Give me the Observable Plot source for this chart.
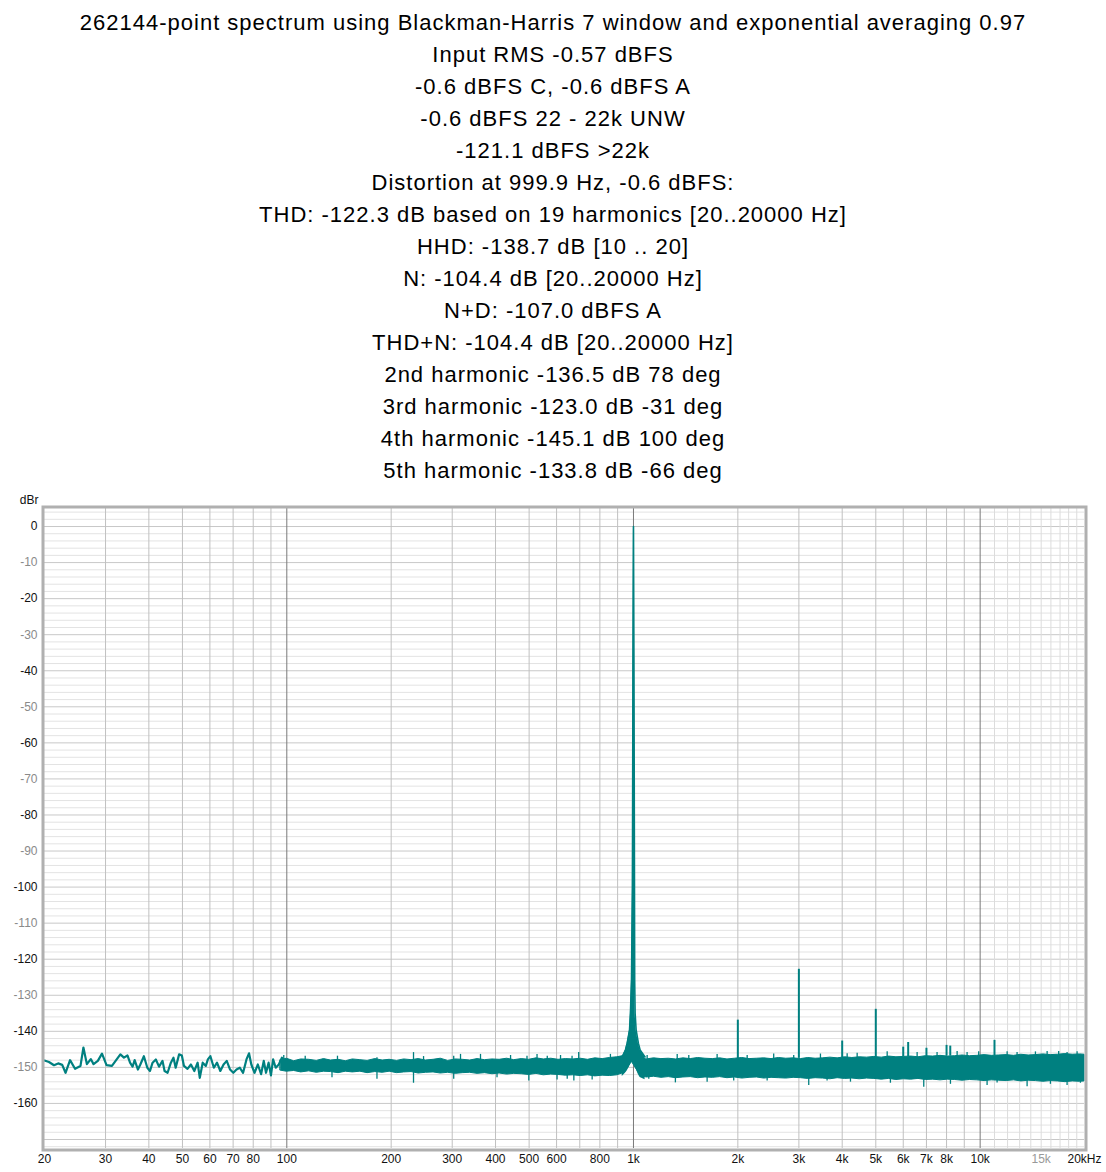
<!DOCTYPE html>
<html>
<head>
<meta charset="utf-8">
<script src="https://cdn.jsdelivr.net/npm/d3@7"></script>
<script src="https://cdn.jsdelivr.net/npm/@observablehq/plot@0.6"></script>
<style>
  body { margin: 0; background: #fff; font-family: "Liberation Sans", Arial, sans-serif; }
  #title { width: 1106px; box-sizing: border-box; height: 487px; padding-top: 7px; text-align: center; font-size: 22px; letter-spacing: 1px; line-height: 32px; color: #000; }
  #chart svg { display: block; }
</style>
</head>
<body>
<div id="title"></div>
<div id="chart"></div>
<script>
// ---------- text ----------
const titleLines = [
  "262144-point spectrum using Blackman-Harris 7 window and exponential averaging 0.97",
  "Input RMS -0.57 dBFS",
  "-0.6 dBFS C, -0.6 dBFS A",
  "-0.6 dBFS 22 - 22k UNW",
  "-121.1 dBFS >22k",
  "Distortion at 999.9 Hz, -0.6 dBFS:",
  "THD: -122.3 dB based on 19 harmonics [20..20000 Hz]",
  "HHD: -138.7 dB [10 .. 20]",
  "N: -104.4 dB [20..20000 Hz]",
  "N+D: -107.0 dBFS A",
  "THD+N: -104.4 dB [20..20000 Hz]",
  "2nd harmonic -136.5 dB 78 deg",
  "3rd harmonic -123.0 dB -31 deg",
  "4th harmonic -145.1 dB 100 deg",
  "5th harmonic -133.8 dB -66 deg"
];
const yAxisLabel = "dBr";

// ---------- tick labels ----------
const xTickFreq  = [20, 30, 40, 50, 60, 70, 80, 100, 200, 300, 400, 500, 600, 800, 1000, 2000, 3000, 4000, 5000, 6000, 7000, 8000, 10000, 15000, 20000];
const xTickLabel = ["20","30","40","50","60","70","80","100","200","300","400","500","600","800","1k","2k","3k","4k","5k","6k","7k","8k","10k","15k","20kHz"];
const xTickGray  = ["15k"];
const yTickValues = [0, -10, -20, -30, -40, -50, -60, -70, -80, -90, -100, -110, -120, -130, -140, -150, -160];

// ---------- low-frequency trace (20 .. ~100 Hz) ----------
const lowFreq = [20, 20.6, 21.3, 21.9, 22.5, 23.0, 23.7, 24.5, 25.4, 25.9,
  26.5, 27.2, 27.7, 28.5, 29.3, 30.2, 31.3, 33.1, 33.9, 34.7,
  35.3, 35.9, 36.4, 37.2, 37.8, 38.7, 39.6, 40.3, 41.0, 41.9,
  42.8, 43.8, 44.4, 45.3, 46.3, 47.1, 47.8, 48.9, 49.8, 50.5,
  51.7, 52.9, 54.1, 55.3, 56.1, 57.2, 58.4, 59.2, 60.2, 61.6,
  62.9, 64.3, 65.7, 67.1, 68.6, 70.1, 71.6, 73.2, 74.8, 76.5,
  77.8, 79.0, 80.7, 82.5, 84.3, 85.8, 87.1, 88.6, 90.0, 91.3,
  92.9, 94.8, 96.8, 98.9, 101.1];
const lowLevel = [-148.1, -148.5, -149.4, -148.9, -149.3, -151.5, -148.0, -150.4, -149.6, -144.5,
  -149.1, -147.7, -149.1, -148.2, -146.2, -149.4, -149.6, -146.4, -147.3, -146.7,
  -148.7, -149.8, -148.0, -150.6, -149.2, -146.9, -150.1, -151.0, -148.7, -147.8,
  -149.8, -148.2, -151.0, -151.5, -148.7, -147.3, -150.1, -146.4, -146.7, -149.6,
  -150.4, -149.2, -151.0, -148.7, -152.9, -148.7, -149.6, -147.8, -146.9, -150.1,
  -148.7, -151.0, -149.2, -148.2, -150.6, -151.5, -150.6, -150.1, -151.5, -147.8,
  -146.1, -149.2, -151.5, -149.2, -151.9, -148.2, -151.5, -148.7, -152.2, -147.8,
  -150.1, -149.2, -147.3, -149.6, -148.7];

// ---------- dense noise floor (~100 Hz .. 20 kHz): solid core envelope ----------
const bandFreq = [96, 100, 105, 110, 116, 122, 128, 134, 141, 148,
  155, 163, 171, 180, 189, 198, 208, 218, 229, 240,
  252, 265, 278, 292, 307, 322, 338, 355, 373, 392,
  411, 432, 453, 476, 500, 525, 551, 579, 608, 638,
  670, 704, 739, 776, 815, 855, 898, 943, 990, 1040,
  1069, 1092, 1146, 1204, 1264, 1327, 1393, 1463, 1536, 1613,
  1694, 1778, 1867, 1961, 2059, 2162, 2270, 2383, 2502, 2627,
  2759, 2897, 3041, 3193, 3353, 3521, 3697, 3881, 4076, 4279,
  4493, 4718, 4954, 5202, 5462, 5735, 6021, 6322, 6639, 6970,
  7319, 7685, 8069, 8473, 8896, 9341, 9808, 10299, 10814, 11354,
  11922, 12518, 13144, 13801, 14491, 15216, 15977, 16776, 17614, 18495,
  19420, 20000];
const bandTop = [-148.0, -147.6, -148.3, -147.8, -147.9, -148.2, -147.7, -148.1, -147.9, -148.3,
  -147.8, -148.0, -148.2, -147.7, -148.1, -147.9, -148.2, -147.8, -148.0, -147.7,
  -148.1, -147.9, -147.6, -148.2, -147.8, -147.9, -148.1, -147.7, -148.0, -147.8,
  -147.9, -147.6, -148.0, -147.7, -147.9, -147.5, -147.8, -147.6, -147.9, -147.7,
  -147.8, -147.6, -147.9, -147.5, -147.7, -147.4, -147.2, -146.8, -146.5, -147.0,
  -147.6, -147.8, -147.5, -147.7, -147.6, -147.8, -147.5, -147.7, -147.4, -147.6,
  -147.7, -147.5, -147.8, -147.6, -147.4, -147.7, -147.6, -147.5, -147.7, -147.4,
  -147.6, -147.5, -147.7, -147.4, -147.6, -147.5, -147.3, -147.5, -147.2, -147.4,
  -147.2, -147.3, -147.1, -147.3, -147.0, -147.2, -147.1, -147.0, -147.2, -146.9,
  -147.0, -146.8, -147.0, -146.9, -146.7, -146.9, -146.8, -146.6, -146.8, -146.7,
  -146.6, -146.8, -146.5, -146.7, -146.6, -146.4, -146.6, -146.5, -146.3, -146.5,
  -146.4, -146.5];
const bandBottom = [-150.9, -151.2, -151.0, -151.4, -151.1, -151.5, -151.2, -151.3, -151.6, -151.2,
  -151.4, -151.2, -151.6, -151.3, -151.5, -151.2, -151.6, -151.4, -151.3, -151.7,
  -151.5, -151.4, -151.7, -151.5, -151.8, -151.6, -151.5, -151.8, -151.6, -151.9,
  -151.7, -152.0, -151.8, -151.9, -152.1, -151.8, -152.2, -152.0, -152.1, -152.3,
  -152.2, -152.4, -152.2, -152.5, -152.3, -152.4, -152.2, -151.5, -148.5, -151.8,
  -152.6, -152.8, -152.6, -152.9, -152.7, -153.0, -152.8, -152.7, -153.0, -152.8,
  -152.9, -152.7, -153.0, -152.8, -153.1, -152.9, -152.8, -153.1, -152.9, -153.0,
  -153.1, -152.9, -153.0, -153.2, -153.0, -153.1, -153.3, -153.0, -153.2, -153.1,
  -153.3, -153.1, -153.2, -153.4, -153.2, -153.5, -153.3, -153.4, -153.2, -153.5,
  -153.4, -153.6, -153.4, -153.5, -153.7, -153.5, -153.6, -153.8, -153.6, -153.7,
  -153.8, -153.6, -153.9, -153.7, -153.8, -154.0, -153.8, -153.9, -154.1, -153.9,
  -154.0, -153.9];

// ---------- noise spikes poking out of the floor ----------
const spikeUpFreq = [98, 113, 140, 182, 232, 248, 303, 317, 362, 442,
  493, 527, 564, 616, 665, 695, 858, 1095, 1337, 1444,
  1743, 2128, 2538, 2899, 3462, 4134, 4418, 5393, 6580, 7512,
  8582, 9170, 9904, 11963, 12780, 14438, 15604, 16848, 17814, 19040];
const spikeUpLevel = [-146.7, -146.9, -146.9, -147.3, -145.9, -147.0, -146.9, -146.4, -146.4, -146.7,
  -146.9, -146.4, -146.9, -146.7, -146.9, -145.9, -146.4, -146.7, -146.4, -146.7,
  -146.4, -146.7, -146.3, -146.7, -146.3, -146.2, -146.1, -145.7, -145.9, -145.9,
  -145.6, -145.9, -145.7, -145.7, -145.9, -145.7, -145.6, -145.6, -145.9, -145.7];
const spikeDownFreq = [135, 182, 232, 303, 404, 499, 602, 644, 673, 760,
  1107, 1321, 1631, 1946, 2430, 3203, 3618, 4226, 5510, 6876,
  8210, 10472, 11192, 13660, 15950, 17814, 19464];
const spikeDownLevel = [-152.9, -153.3, -154.4, -153.3, -152.9, -153.8, -153.5, -153.3, -153.8, -153.5,
  -153.3, -154.3, -154.1, -153.8, -153.8, -155.0, -153.8, -154.1, -154.4, -155.5,
  -154.7, -155.0, -154.3, -155.4, -154.7, -155.0, -154.4];

// ---------- fundamental (1 kHz) and its skirt ----------
const skirtFreq = [928, 948, 959, 974, 980, 987, 993, 996.6, 1000, 1003.3, 1006.7, 1008, 1011, 1018, 1033, 1045, 1080];
const skirtHigh = [-147.1, -145.2, -143.3, -139.7, -135.0, -125.8, -100, -40, 0, -40, -100, -125.8, -135.0, -139.7, -143.3, -145.2, -147.1];
const skirtLow  = [-152.5, -151.6, -151.0, -149.8, -148.9, -148.0, -147.5, -147.0, -147.0, -147.0, -147.5, -148.0, -149.0, -150.5, -152.0, -152.8, -153.4];

// ---------- harmonic / spurious spikes ----------
const harmFreq  = [2000, 3000, 4000, 5000, 6000, 6200, 7000, 8000, 8200, 11000];
const harmLevel = [-136.9, -122.8, -142.7, -133.9, -144.4, -143.1, -144.7, -143.9, -144.1, -142.5];
const harmBase  = [-147.6, -147.5, -147.3, -147.2, -147.1, -147.1, -147.0, -146.9, -146.9, -146.8];

// ---------- build ----------
document.getElementById("title").innerHTML = titleLines.map(t => `<div>${t}</div>`).join("");

const low = lowFreq.map((f, i) => ({f, v: lowLevel[i]}));
const band = bandFreq.map((f, i) => ({f, top: bandTop[i], bottom: bandBottom[i]}));
const upSpikes = spikeUpFreq.map((f, i) => ({f, v: spikeUpLevel[i]}));
const downSpikes = spikeDownFreq.map((f, i) => ({f, v: spikeDownLevel[i]}));
const skirt = skirtFreq.map((f, i) => ({f, hi: skirtHigh[i], lo: skirtLow[i]}));
const harm = harmFreq.map((f, i) => ({f, v: harmLevel[i], base: harmBase[i]}));
const xTicks = xTickFreq.map((f, i) => ({f, label: xTickLabel[i]}));

const yMinor = d3.range(-172, 5, 2).filter(d => d % 10 !== 0);
const yMajor = d3.range(-170, 5, 10);
const xMid = [...d3.range(30, 100, 10), ...d3.range(200, 1000, 100), ...d3.range(2000, 10000, 1000)];
const xDecade = [100, 1000, 10000];
const xHigh = d3.range(11000, 20000, 1000);

const teal = "#008080";
const floorMid = -150;

const chart = Plot.plot({
  width: 1106,
  height: 685,
  marginLeft: 44,
  marginRight: 22,
  marginTop: 21,
  marginBottom: 24,
  x: {type: "log", domain: [20, 20000], axis: null},
  y: {domain: [-172.5, 5], axis: null},
  style: {fontFamily: '"Liberation Sans", Arial, sans-serif', background: "#fff", overflow: "visible"},
  marks: [
    Plot.ruleY(yMinor, {stroke: "#e3e3e3"}),
    Plot.ruleY(yMajor, {stroke: "#c8c8c8"}),
    Plot.ruleX(xHigh, {stroke: "#dcdcdc"}),
    Plot.ruleX(xMid, {stroke: "#c0c0c0"}),
    Plot.ruleX(xDecade, {stroke: "#7a7a7a"}),
    Plot.areaY(band, {x: "f", y1: "bottom", y2: "top", fill: teal, stroke: teal, strokeWidth: 1}),
    Plot.ruleX(upSpikes, {x: "f", y1: floorMid, y2: "v", stroke: teal, strokeWidth: 1.3}),
    Plot.ruleX(downSpikes, {x: "f", y1: floorMid, y2: "v", stroke: teal, strokeWidth: 1.3}),
    Plot.line(low, {x: "f", y: "v", stroke: teal, strokeWidth: 2.2}),
    Plot.areaY(skirt, {x: "f", y1: "lo", y2: "hi", fill: teal}),
    Plot.line(skirt, {x: "f", y: "hi", stroke: teal, strokeWidth: 1.6}),
    Plot.ruleX(harm, {x: "f", y1: "base", y2: "v", stroke: teal, strokeWidth: 2}),
    Plot.frame({stroke: "#b0b0b0", strokeWidth: 3, inset: -1.5}),
    Plot.text(xTicks.filter(d => !xTickGray.includes(d.label)), {x: "f", text: "label", frameAnchor: "bottom", dy: 14, fontSize: 12, fill: "#111"}),
    Plot.text(xTicks.filter(d => xTickGray.includes(d.label)), {x: "f", text: "label", frameAnchor: "bottom", dy: 14, fontSize: 12, fill: "#999"}),
    Plot.text(yTickValues.filter(d => d % 20 === 0), {y: d => d, text: d => String(d), frameAnchor: "left", dx: -7, textAnchor: "end", fontSize: 12, fill: "#111"}),
    Plot.text(yTickValues.filter(d => d % 20 !== 0), {y: d => d, text: d => String(d), frameAnchor: "left", dx: -7, textAnchor: "end", fontSize: 12, fill: "#8a8a8a"}),
    Plot.text([yAxisLabel], {text: d => d, frameAnchor: "top-left", dx: -6, dy: -13, textAnchor: "end", fontSize: 12, fill: "#111"})
  ]
});
document.getElementById("chart").appendChild(chart);
</script>
</body>
</html>
